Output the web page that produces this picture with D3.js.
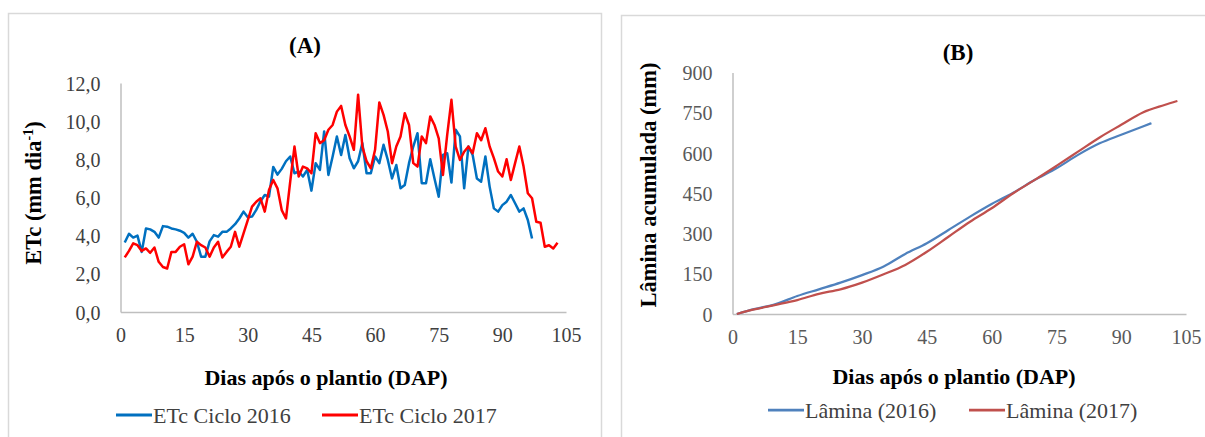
<!DOCTYPE html>
<html>
<head>
<meta charset="utf-8">
<script src="https://cdn.jsdelivr.net/npm/d3@7"></script>
<style>
  html, body { margin: 0; padding: 0; background: #fff; }
  svg { display: block; }
  svg text { font-family: "Liberation Serif", "Times New Roman", serif !important; }
</style>
</head>
<body>
<svg id="chart" width="1205" height="437"></svg>
<script>
// Daily crop evapotranspiration (mm/day), 2016 cycle: days 1..97
const etc2016 = [
  3.64, 4.10, 3.90, 4.00, 3.15, 4.38, 4.33, 4.20, 3.90, 4.50,
  4.47, 4.38, 4.33, 4.26, 4.15, 3.90, 4.10, 3.68, 2.90, 2.90,
  3.70, 4.03, 3.95, 4.20, 4.20, 4.38, 4.60, 4.90, 5.26, 4.96,
  5.00, 5.35, 5.80, 6.13, 6.05, 7.60, 7.20, 7.50, 7.90, 8.15,
  7.27, 7.36, 7.10, 7.45, 6.36, 7.80, 7.45, 9.46, 7.18, 8.15,
  9.20, 8.23, 9.28, 8.06, 7.53, 7.90, 8.85, 7.27, 7.27, 8.15,
  7.80, 8.76, 7.97, 7.00, 7.70, 6.48, 6.66, 7.80, 8.67, 9.37,
  6.75, 6.75, 8.00, 7.00, 6.04, 8.23, 8.32, 6.78, 9.55, 9.20,
  6.48, 8.67, 8.23, 7.00, 6.83, 8.15, 6.57, 5.43, 5.26, 5.60,
  5.78, 6.13, 5.70, 5.26, 5.43, 4.82, 3.85
];

// Daily crop evapotranspiration (mm/day), 2017 cycle: days 1..103
const etc2017 = [
  2.86, 3.20, 3.60, 3.50, 3.20, 3.33, 3.10, 3.38, 2.63, 2.36,
  2.28, 3.15, 3.15, 3.42, 3.55, 2.50, 2.90, 3.68, 3.50, 3.38,
  2.90, 3.38, 3.68, 2.86, 3.15, 3.42, 4.20, 3.42, 4.12, 4.82,
  5.52, 5.78, 5.96, 5.26, 6.40, 6.92, 6.48, 5.34, 4.90, 6.83,
  8.67, 7.10, 7.62, 7.53, 7.27, 9.37, 8.85, 9.00, 9.55, 9.80,
  10.50, 10.80, 9.80, 9.20, 8.50, 11.39, 8.67, 7.90, 7.53, 8.50,
  10.98, 10.33, 9.46, 7.80, 8.67, 9.20, 10.42, 9.80, 7.80, 7.62,
  9.20, 8.85, 10.25, 9.80, 9.10, 7.18, 9.28, 11.12, 8.67, 7.97,
  8.40, 8.67, 8.32, 9.37, 9.00, 9.63, 8.67, 8.06, 7.36, 7.10,
  8.00, 6.92, 7.80, 8.67, 7.62, 6.22, 5.96, 4.73, 4.68, 3.42,
  3.50, 3.33, 3.63
];

// Accumulated irrigation depth (mm)
const laminaDays2016 = [1, 5, 10, 15, 20, 25, 30, 35, 40, 45, 50, 55, 60, 65, 70, 75, 80, 85, 90, 95, 97];
const lamina2016     = [0, 18, 37, 67, 92, 117, 145, 177, 224, 264, 313, 363, 410, 452, 500, 543, 593, 636, 668, 699, 711];
const laminaDays2017 = [1, 5, 10, 15, 20, 25, 30, 35, 40, 45, 50, 55, 60, 65, 70, 75, 80, 85, 90, 95, 100, 103];
const lamina2017     = [0, 17, 34, 52, 75, 92, 117, 148, 183, 232, 288, 344, 394, 450, 500, 552, 605, 658, 705, 751, 779, 794];

// Axis ticks and labels
const xTicks = [0, 15, 30, 45, 60, 75, 90, 105];
const etcTicks = [0, 2, 4, 6, 8, 10, 12];
const laminaTicks = [0, 150, 300, 450, 600, 750, 900];
const xAxisTitle = "Dias após o plantio (DAP)";
const legendA = ["ETc Ciclo 2016", "ETc Ciclo 2017"];
const legendB = ["Lâmina (2016)", "Lâmina (2017)"];

const SERIF = "'Liberation Serif', 'Times New Roman', serif";
const svg = d3.select("#chart");
const ptBr = d3.formatLocale({ decimal: ",", thousands: ".", grouping: [3], currency: ["R$", ""] });
const fmt1 = ptBr.format(".1f");
const AXIS_GREY = "#BFBFBF";

// Panel frames
svg.append("rect").attr("x", 8.5).attr("y", 13.5).attr("width", 593).attr("height", 440)
  .attr("fill", "none").attr("stroke", "#D9D9D9").attr("stroke-width", 1.5);
svg.append("rect").attr("x", 621.5).attr("y", 15.5).attr("width", 600).attr("height", 440)
  .attr("fill", "none").attr("stroke", "#D9D9D9").attr("stroke-width", 1.5);

function drawPanel(opt) {
  const g = svg.append("g");
  const x = d3.scaleLinear().domain([0, 105]).range([opt.x0, opt.x1]);
  const y = d3.scaleLinear().domain(opt.yDomain).range([opt.y0, opt.y1]);

  // axes (no tick marks, grey domain lines)
  const xAxis = d3.axisBottom(x).tickValues(xTicks).tickSize(0).tickPadding(16);
  const xg = g.append("g").attr("transform", `translate(0,${opt.y0})`).call(xAxis);
  const yAxis = d3.axisLeft(y).tickValues(opt.yTicks).tickSize(0).tickPadding(opt.yPad).tickFormat(opt.yFormat);
  const yg = g.append("g").attr("transform", `translate(${opt.x0},0)`).call(yAxis);
  [xg, yg].forEach(a => {
    a.attr("font-family", null).attr("font-size", null);
    a.select(".domain").attr("stroke", AXIS_GREY).attr("stroke-width", 1.5);
    a.selectAll(".tick text")
      .attr("fill", opt.tickColor)
      .style("font-family", SERIF, "important")
      .style("font-size", "20px");
  });
  yg.selectAll("text").attr("dy", "0.35em");

  // titles
  g.append("text").attr("x", opt.titleX).attr("y", opt.titleY).attr("text-anchor", "middle")
    .attr("font-size", 23).attr("font-weight", "bold").text(opt.title);
  g.append("text").attr("x", opt.xTitleX).attr("y", opt.xTitleY).attr("text-anchor", "middle")
    .attr("font-size", 22).attr("font-weight", "bold").text(xAxisTitle);
  const yt = g.append("text")
    .attr("transform", `translate(${opt.yTitleX},${opt.yTitleY}) rotate(-90)`)
    .attr("text-anchor", "middle").attr("font-size", 22.5).attr("font-weight", "bold");
  opt.yTitle(yt);

  // series
  opt.series.forEach(s => {
    const line = d3.line().x(d => x(d[0])).y(d => y(d[1]));
    if (s.curve) line.curve(s.curve);
    g.append("path").datum(s.points).attr("fill", "none").attr("stroke", s.color)
      .attr("stroke-width", s.width).attr("stroke-linejoin", "round").attr("d", line);
  });

  // legend
  opt.series.forEach((s, i) => {
    const lx = opt.legendX[i];
    g.append("line").attr("x1", lx).attr("x2", lx + 36).attr("y1", opt.legendY).attr("y2", opt.legendY)
      .attr("stroke", s.color).attr("stroke-width", s.width + 0.5);
    g.append("text").attr("x", lx + 37).attr("y", opt.legendY).attr("dy", "0.35em")
      .attr("font-size", 22).attr("fill", "#404040").text(s.label);
  });
}

drawPanel({
  x0: 120.5, x1: 566, y0: 312, y1: 83, yDomain: [0, 12],
  yTicks: etcTicks, yFormat: fmt1, yPad: 20, tickColor: "#404040",
  title: "(A)", titleX: 305, titleY: 53,
  xTitleX: 326, xTitleY: 385,
  yTitleX: 41, yTitleY: 193,
  yTitle: t => {
    t.append("tspan").text("ETc (mm dia");
    t.append("tspan").attr("font-size", 14).attr("dy", -8).text("-1");
    t.append("tspan").attr("dy", 8).text(")");
  },
  legendX: [116, 322], legendY: 415,
  series: [
    { label: legendA[0], color: "#0070C0", width: 2.5, points: etc2016.map((v, i) => [i + 1, v]) },
    { label: legendA[1], color: "#FF0000", width: 2.5, points: etc2017.map((v, i) => [i + 1, v]) }
  ]
});

drawPanel({
  x0: 732.5, x1: 1186, y0: 314, y1: 72.5, yDomain: [0, 900],
  yTicks: laminaTicks, yFormat: d3.format("d"), yPad: 20, tickColor: "#595959",
  title: "(B)", titleX: 958, titleY: 60,
  xTitleX: 954, xTitleY: 384,
  yTitleX: 656, yTitleY: 185,
  yTitle: t => t.text("Lâmina acumulada (mm)"),
  legendX: [768, 969], legendY: 410,
  series: [
    { label: legendB[0], color: "#4F81BD", width: 2.25, curve: d3.curveMonotoneX,
      points: laminaDays2016.map((d, i) => [d, lamina2016[i]]) },
    { label: legendB[1], color: "#C0504D", width: 2.25, curve: d3.curveMonotoneX,
      points: laminaDays2017.map((d, i) => [d, lamina2017[i]]) }
  ]
});
</script>
</body>
</html>
